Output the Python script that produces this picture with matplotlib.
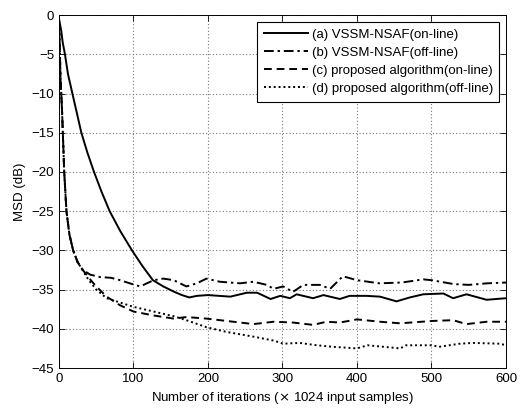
import matplotlib
matplotlib.use("Agg")
from matplotlib import pyplot as plt
import numpy as np

plt.rcParams['font.family'] = ['Liberation Sans', 'DejaVu Sans']
plt.rcParams['font.size'] = 9.5

# (a) VSSM-NSAF on-line
xa = [0, 3, 5, 8, 12, 18, 24, 30, 38, 47, 57, 68, 82, 98, 112, 126, 140, 155, 165,
      175, 185, 200, 215, 230, 252, 266, 284, 297, 310, 319, 341, 355, 377, 390,
      413, 431, 453, 471, 489, 516, 529, 547, 574, 600]
ya = [-0.5, -2.0, -3.5, -5.0, -7.5, -10.0, -12.5, -15.0, -17.5, -20.0, -22.5, -25.0,
      -27.5, -30.0, -32.0, -33.8, -34.6, -35.3, -35.7, -36.0, -35.8, -35.7, -35.8,
      -35.9, -35.4, -35.4, -36.2, -35.8, -36.1, -35.6, -36.1, -35.7, -36.2, -35.8,
      -35.8, -35.9, -36.5, -36.0, -35.6, -35.5, -36.1, -35.6, -36.3, -36.1]

# (b) VSSM-NSAF off-line
xb = [0, 1, 2, 4, 7, 10, 14, 19, 25, 32, 42, 55, 70, 82, 95, 109, 127, 140, 154,
      171, 185, 198, 216, 243, 261, 279, 288, 301, 314, 328, 350, 364, 381, 400,
      430, 460, 489, 500, 530, 550, 575, 600]
yb = [-0.5, -4.0, -8.0, -12.0, -20.0, -25.0, -28.0, -30.0, -31.5, -32.5, -33.1, -33.4,
      -33.5, -33.8, -34.2, -34.6, -33.8, -33.6, -33.8, -34.6, -34.2, -33.6, -34.0,
      -34.2, -34.0, -34.4, -34.9, -34.6, -35.3, -34.4, -34.4, -34.9, -33.3, -33.8,
      -34.2, -34.1, -33.7, -33.8, -34.3, -34.4, -34.2, -34.1]

# (c) proposed algorithm on-line
xc = [0, 1, 2, 4, 7, 10, 14, 19, 25, 32, 40, 50, 64, 82, 100, 127, 154, 171, 198,
      225, 261, 288, 314, 341, 359, 377, 400, 431, 458, 501, 529, 547, 574, 600]
yc = [-0.5, -4.0, -8.0, -12.0, -20.0, -25.0, -28.0, -30.0, -31.5, -32.5, -33.5,
      -34.6, -35.9, -37.0, -37.8, -38.3, -38.7, -38.5, -38.7, -39.0, -39.4, -39.1,
      -39.2, -39.5, -39.1, -39.2, -38.8, -39.1, -39.3, -39.0, -38.9, -39.4, -39.1,
      -39.1]

# (d) proposed algorithm off-line
xd = [0, 1, 2, 4, 7, 10, 14, 19, 25, 32, 40, 50, 64, 100, 127, 154, 171, 198, 225,
      261, 288, 301, 323, 346, 368, 400, 414, 458, 466, 501, 510, 538, 556, 592, 600]
yd = [-0.5, -4.0, -8.0, -12.0, -20.0, -25.0, -28.0, -30.0, -31.5, -32.6, -33.8,
      -35.0, -36.1, -37.2, -37.8, -38.4, -38.9, -39.8, -40.4, -41.0, -41.5, -41.9,
      -41.8, -42.1, -42.3, -42.5, -42.1, -42.5, -42.1, -42.1, -42.3, -41.9, -41.8,
      -41.9, -42.1]

fig = plt.figure(figsize=(5.24, 4.08), dpi=100)
ax = fig.add_axes([0.1126, 0.098, 0.853, 0.865])
lw = 1.4
ax.plot(xa, ya, color='k', lw=lw, ls='-', label='(a) VSSM-NSAF(on-line)')
ax.plot(xb, yb, color='k', lw=lw, ls=(0, (5, 2, 1.2, 2)), label='(b) VSSM-NSAF(off-line)')
ax.plot(xc, yc, color='k', lw=lw, ls=(0, (4, 2.5)), label='(c) proposed algorithm(on-line)')
ax.plot(xd, yd, color='k', lw=lw, ls=(0, (1, 1.5)), label='(d) proposed algorithm(off-line)')

ax.set_xlim(0, 600)
ax.set_ylim(-45, 0)
ax.set_xticks(np.arange(0, 601, 100))
ax.set_yticks(np.arange(-45, 1, 5))
ax.grid(True, color='#777777', ls=(0, (1, 2)), lw=0.8)
ax.tick_params(direction='in', top=True, right=True, length=4, width=0.6)
for s in ax.spines.values():
    s.set_linewidth(0.7)
ax.set_xlabel('Number of iterations ($\\times$ 1024 input samples)')
ax.set_ylabel('MSD (dB)')

leg = ax.legend(loc='upper right', fancybox=False, framealpha=1, edgecolor='k',
                handlelength=3.3, handletextpad=0.3, labelspacing=0.45,
                borderaxespad=0.5, borderpad=0.5, fontsize=9.5)
leg.get_frame().set_linewidth(0.8)

fig.savefig('out.png', dpi=100)
